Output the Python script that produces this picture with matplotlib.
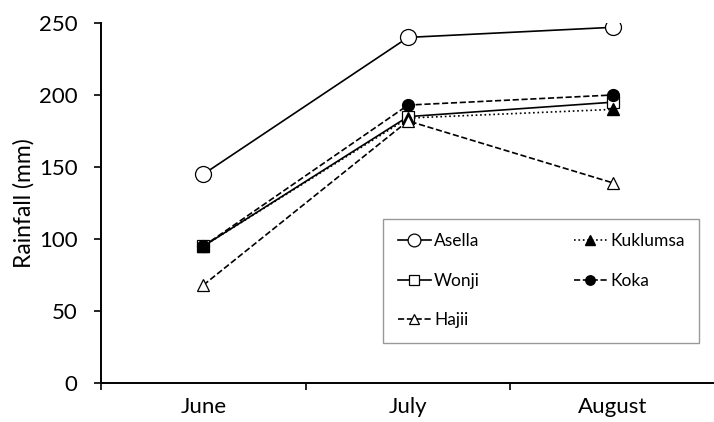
import numpy as np
import matplotlib
matplotlib.use('Agg')
import matplotlib.pyplot as plt

plt.rcParams['font.family'] = ['Lato', 'DejaVu Sans']

months = ['June', 'July', 'August']
asella = [145, 240, 247]
kuklumsa = [95, 184, 190]
wonji = [95, 185, 195]
koka = [95, 193, 200]
hajii = [68, 182, 139]

fig = plt.figure(figsize=(7.14, 4.22), dpi=100)
ax = fig.add_axes([0.1415, 0.0924, 0.86, 0.8531])

x = np.arange(len(months))
lw = 1.2
l_as, = ax.plot(x, asella, '-', color='black', lw=lw, marker='o', ms=11.5,
                mfc='white', mec='black', mew=0.9, label='Asella', zorder=3)
l_wo, = ax.plot(x, wonji, '-', color='black', lw=lw, marker='s', ms=9,
                mfc='white', mec='black', mew=0.9, label='Wonji', zorder=3)
l_ku, = ax.plot(x, kuklumsa, ':', color='black', lw=lw, marker='^', ms=8.5,
                mfc='black', mec='black', label='Kuklumsa', zorder=3)
l_ko, = ax.plot(x, koka, '--', color='black', lw=lw, marker='o', ms=8.5,
                mfc='black', mec='black', label='Koka', zorder=4)
l_ha, = ax.plot(x, hajii, '--', color='black', lw=lw, marker='^', ms=8.5,
                mfc='white', mec='black', mew=0.9, label='Hajii', zorder=3)

ax.set_xlim(-0.5, 2.5)
ax.set_ylim(0, 250)
ax.set_yticks([0, 50, 100, 150, 200, 250])
ax.set_xticks(x)
ax.set_xticklabels(months)
ax.set_xticks([-0.5, 0.5, 1.5, 2.5], minor=True)
ax.tick_params(axis='x', which='major', length=0, pad=10, labelsize=16)
ax.tick_params(axis='x', which='minor', length=5, width=1.2, direction='out')
ax.tick_params(axis='y', length=5, width=1.2, direction='out', labelsize=16, pad=12)

for s in ['top', 'right']:
    ax.spines[s].set_visible(False)
for s in ['left', 'bottom']:
    ax.spines[s].set_linewidth(1.4)

ax.set_ylabel('Rainfall (mm)', fontsize=16.5, labelpad=3)

leg = ax.legend(handles=[l_as, l_wo, l_ha, l_ku, l_ko], ncol=2,
                loc='lower left', bbox_to_anchor=(0.459, 0.111, 0.52, 0.45),
                fontsize=12.5, frameon=True, fancybox=False, edgecolor='#808080',
                handlelength=1.9, handletextpad=0.2, labelspacing=1.35,
                columnspacing=5.4, borderpad=0.85, borderaxespad=0,
                markerscale=0.8)
leg.get_frame().set_linewidth(1.0)

fig.savefig('out.png', dpi=100)
